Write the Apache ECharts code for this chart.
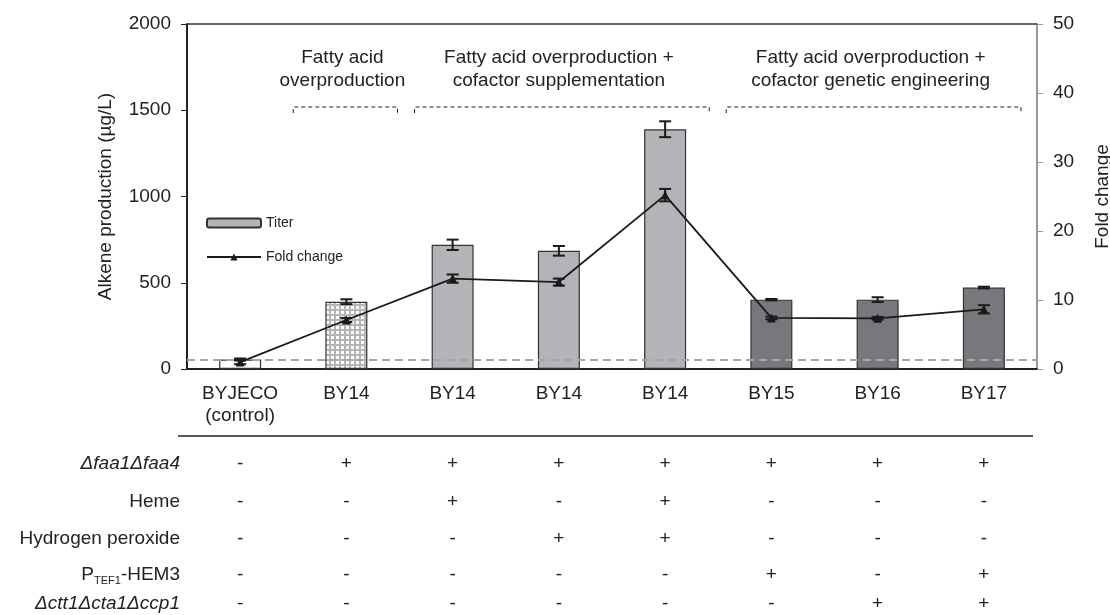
<!DOCTYPE html>
<html>
<head>
    <meta charset="utf-8">
    <title>alkene</title>
    <script src="https://cdn.jsdelivr.net/npm/echarts@6/dist/echarts.min.js"></script>
    <style>
        html, body { margin: 0; padding: 0; background: #fff; }
        #chart { width: 1110px; height: 615px; }
    </style>
</head>
<body>
<div id="chart"></div>
<script>
    // strains
    var categories = ['BYJECO\n(control)', 'BY14', 'BY14', 'BY14', 'BY14', 'BY15', 'BY16', 'BY17'];
    // titer (µg/L) and its error
    var titer = [55, 390, 720, 685, 1390, 402, 402, 472];
    var titerErr = [6, 14, 30, 28, 46, 4, 14, 5];
    // fold change and its error
    var fold = [1.0, 7.1, 13.1, 12.6, 25.2, 7.4, 7.35, 8.65];
    var foldErr = [0.3, 0.3, 0.6, 0.5, 0.9, 0.2, 0.2, 0.6];
    // bar fill kind per strain
    var barKinds = ['white', 'dots', 'light', 'light', 'light', 'dark', 'dark', 'dark'];
    var controlLevel = 55;

    var leftTicks = [0, 2000, 500];
    var rightTicks = [0, 50, 10];

    var groupTitles = ['Fatty acid\noverproduction',
        'Fatty acid overproduction +\ncofactor supplementation',
        'Fatty acid overproduction +\ncofactor genetic engineering'];
    var groupRanges = [[1, 1], [2, 4], [5, 7]];

    var rowNames = ['Δfaa1Δfaa4', 'Heme', 'Hydrogen peroxide', 'PTEF1-HEM3', 'Δctt1Δcta1Δccp1'];
    var rowValues = [
        ['-', '+', '+', '+', '+', '+', '+', '+'],
        ['-', '-', '+', '-', '+', '-', '-', '-'],
        ['-', '-', '-', '+', '+', '-', '-', '-'],
        ['-', '-', '-', '-', '-', '+', '-', '+'],
        ['-', '-', '-', '-', '-', '-', '+', '+']
    ];

    var FONT = 'Liberation Sans, Arial, sans-serif';
    var LIGHT = '#b3b4b7';
    var DARK = '#77787b';

    // dotted fill for the BY14 bar
    function dotPattern() {
        var c = document.createElement('canvas');
        c.width = 5; c.height = 5;
        var ctx = c.getContext('2d');
        ctx.fillStyle = '#b4b5b8';
        ctx.fillRect(0, 0, 5, 5);
        ctx.fillStyle = '#ffffff';
        ctx.fillRect(1, 1, 3, 3);
        return c;
    }

    function barColor(kind) {
        if (kind === 'white') return '#ffffff';
        if (kind === 'dots') return { image: dotPattern(), repeat: 'repeat' };
        if (kind === 'light') return LIGHT;
        return DARK;
    }

    var barData = titer.map(function (v, i) {
        return { value: v, itemStyle: { color: barColor(barKinds[i]) } };
    });

    function errData(vals, errs) {
        return vals.map(function (v, i) { return [i, v - errs[i], v + errs[i]]; });
    }

    function renderErr(params, api) {
        var lo = api.coord([api.value(0), api.value(1)]);
        var hi = api.coord([api.value(0), api.value(2)]);
        var half = 6;
        var st = { stroke: '#1a1a1a', lineWidth: 2 };
        return {
            type: 'group',
            children: [
                { type: 'line', shape: { x1: hi[0], y1: hi[1], x2: lo[0], y2: lo[1] }, style: st },
                { type: 'line', shape: { x1: hi[0] - half, y1: hi[1], x2: hi[0] + half, y2: hi[1] }, style: st },
                { type: 'line', shape: { x1: lo[0] - half, y1: lo[1], x2: lo[0] + half, y2: lo[1] }, style: st }
            ]
        };
    }

    var chart = echarts.init(document.getElementById('chart'));

    var option = {
        animation: false,
        textStyle: { fontFamily: FONT },
        grid: { left: 187, right: 73, top: 24, bottom: 246, outerBoundsMode: 'none', containLabel: false },
        legend: {
            data: ['Titer', 'Fold change'],
            orient: 'vertical',
            left: 201,
            top: 211,
            itemWidth: 54,
            itemHeight: 9,
            itemGap: 20,
            textStyle: { fontSize: 14, color: '#222', fontFamily: FONT }
        },
        xAxis: [{
            type: 'category',
            data: categories,
            axisLine: { lineStyle: { color: '#222', width: 2 } },
            axisTick: { show: false },
            axisLabel: { interval: 0, fontSize: 19, color: '#222', margin: 14, lineHeight: 22 }
        }],
        yAxis: [{
            type: 'value',
            min: leftTicks[0], max: leftTicks[1], interval: leftTicks[2],
            name: 'Alkene production (µg/L)',
            nameLocation: 'middle',
            nameGap: 72,
            nameTextStyle: { fontSize: 19, color: '#222' },
            axisLine: { show: true, lineStyle: { color: '#222', width: 2 } },
            axisTick: { show: true, length: 6, lineStyle: { color: '#222' } },
            axisLabel: { fontSize: 19, color: '#222', margin: 16, formatter: function (v) { return String(v); } },
            splitLine: { show: false }
        }, {
            type: 'value',
            min: rightTicks[0], max: rightTicks[1], interval: rightTicks[2],
            name: 'Fold change',
            nameLocation: 'middle',
            nameGap: 56,
            nameRotate: 90,
            nameTextStyle: { fontSize: 19, color: '#222' },
            axisLine: { show: true, lineStyle: { color: '#999', width: 2 } },
            axisTick: { show: true, length: 6, lineStyle: { color: '#999' } },
            axisLabel: { fontSize: 19, color: '#222', margin: 16, formatter: function (v) { return String(v); } },
            splitLine: { show: false }
        }],
        series: [{
            name: 'Titer',
            type: 'bar',
            data: barData,
            barWidth: 42,
            itemStyle: { color: LIGHT, borderColor: '#333', borderWidth: 1.2 },
            markLine: {
                silent: true,
                symbol: 'none',
                label: { show: false },
                lineStyle: { color: '#a5a5a5', type: [8, 5], width: 2 },
                data: [{ yAxis: controlLevel }]
            },
            z: 2
        }, {
            type: 'custom',
            renderItem: renderErr,
            data: errData(titer, titerErr),
            z: 4
        }, {
            name: 'Fold change',
            type: 'line',
            yAxisIndex: 1,
            data: fold,
            symbol: 'triangle',
            symbolSize: 9,
            itemStyle: { color: '#1a1a1a' },
            lineStyle: { color: '#1a1a1a', width: 1.8 },
            z: 5
        }, {
            type: 'custom',
            yAxisIndex: 1,
            renderItem: renderErr,
            data: errData(fold, foldErr),
            z: 6
        }]
    };

    chart.setOption(option);

    // annotations: top frame line, group brackets and condition table below the axis
    var left = 187, right = 1110 - 73;
    var band = (right - left) / categories.length;
    function cx(i) { return chart.convertToPixel({ xAxisIndex: 0 }, i); }

    var graphics = [];
    graphics.push({
        type: 'line',
        shape: { x1: left, y1: 24, x2: right, y2: 24 },
        style: { stroke: '#333', lineWidth: 1.5 },
        z: 10
    });

    var insets = [[0, 2], [15, 9], [8, 16]];
    groupRanges.forEach(function (r, g) {
        var x1 = cx(r[0]) - band / 2 + insets[g][0];
        var x2 = cx(r[1]) + band / 2 - insets[g][1];
        graphics.push({
            type: 'polyline',
            shape: { points: [[x1, 113], [x1, 107], [x2, 107], [x2, 113]] },
            style: { stroke: '#222', lineWidth: 1, lineDash: [4, 3], fill: null }
        });
        graphics.push({
            type: 'text',
            x: (x1 + x2) / 2 - 3,
            y: 46,
            style: {
                text: groupTitles[g], fill: '#222', font: '19px ' + FONT,
                align: 'center', verticalAlign: 'top', lineHeight: 23
            }
        });
    });

    graphics.push({
        type: 'line',
        shape: { x1: 178, y1: 436, x2: 1033, y2: 436 },
        style: { stroke: '#222', lineWidth: 1.5 }
    });

    var rowY = [464, 502, 539, 575, 604];
    rowNames.forEach(function (name, r) {
        var italic = name.charAt(0) === 'Δ';
        var label;
        if (name === 'PTEF1-HEM3') {
            label = {
                type: 'text', x: 180, y: rowY[r],
                style: {
                    text: '{n|P}{s|TEF1}{n|-HEM3}', align: 'right', verticalAlign: 'middle',
                    rich: {
                        n: { fontSize: 19, fontFamily: FONT, fill: '#222', lineHeight: 22 },
                        s: { fontSize: 11, fontFamily: FONT, fill: '#222', lineHeight: 22, padding: [12, 0, 0, 0] }
                    }
                }
            };
        } else {
            label = {
                type: 'text', x: 180, y: rowY[r],
                style: {
                    text: name, fill: '#222', align: 'right', verticalAlign: 'middle',
                    font: (italic ? 'italic ' : '') + '19px ' + FONT
                }
            };
        }
        graphics.push(label);
        rowValues[r].forEach(function (v, i) {
            graphics.push({
                type: 'text', x: cx(i), y: rowY[r],
                style: { text: v, fill: '#222', align: 'center', verticalAlign: 'middle', font: '19px ' + FONT }
            });
        });
    });

    chart.setOption({ graphic: graphics });
</script>
</body>
</html>
